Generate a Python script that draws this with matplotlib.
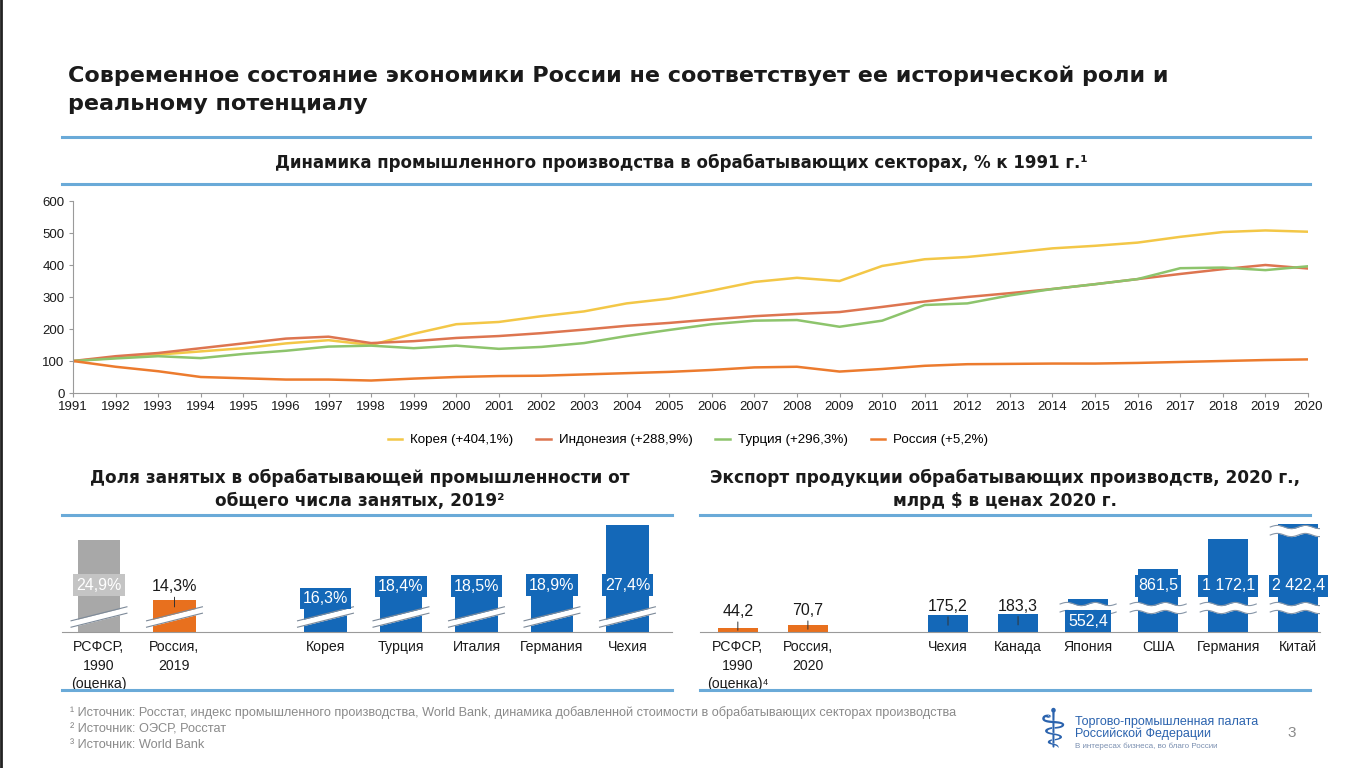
"""
Слайд ТПП: промышленное производство, занятость и экспорт обрабатывающих отраслей.
"""

import numpy as np
import matplotlib
matplotlib.use("Agg")
import matplotlib.pyplot as plt
import matplotlib.transforms as mtransforms
from matplotlib.lines import Line2D

plt.rcParams["font.family"] = ["Liberation Sans", "DejaVu Sans"]

W, H = 1366, 768

# --- линии: % к 1991 г.
years = list(range(1991, 2021))
korea = [100, 110, 120, 130, 140, 155, 165, 150, 185, 215, 222, 240, 255, 280, 295,
         320, 347, 360, 350, 397, 418, 425, 438, 452, 460, 470, 488, 503, 508, 504]
indonesia = [100, 115, 125, 140, 155, 170, 176, 156, 162, 172, 178, 187, 198, 210, 219,
             230, 240, 247, 253, 269, 286, 300, 312, 325, 340, 356, 372, 387, 400, 389]
turkey = [100, 108, 115, 109, 122, 132, 145, 148, 140, 148, 138, 144, 156, 178, 197,
          215, 226, 228, 207, 226, 275, 280, 305, 325, 340, 356, 390, 392, 384, 396]
russia = [100, 82, 68, 50, 46, 42, 42, 39, 45, 50, 53, 54, 58, 62, 66,
          72, 80, 82, 67, 75, 85, 90, 91, 92, 92, 94, 97, 100, 103, 105]
line_names = ["Корея (+404,1%)", "Индонезия (+288,9%)", "Турция (+296,3%)", "Россия (+5,2%)"]

# --- доля занятых, %
emp_labels = ["РСФСР,\n1990\n(оценка)", "Россия,\n2019", "Корея", "Турция",
              "Италия", "Германия", "Чехия"]
emp_values = [24.9, 14.3, 16.3, 18.4, 18.5, 18.9, 27.4]
emp_groups = ["grey", "ru", "blue", "blue", "blue", "blue", "blue"]

# --- экспорт, млрд $
exp_labels = ["РСФСР,\n1990\n(оценка)⁴", "Россия,\n2020", "Чехия", "Канада",
              "Япония", "США", "Германия", "Китай"]
exp_values = [44.2, 70.7, 175.2, 183.3, 552.4, 861.5, 1172.1, 2422.4]
exp_groups = ["ru", "ru", "blue", "blue", "blue", "blue", "blue", "blue"]

BLUE = "#1468B8"
ORANGE = "#E8701E"
GREY = "#A8A8A8"
RULE = "#6AAAD8"
TXT = "#1A1A1A"
bar_colors = {"grey": GREY, "ru": ORANGE, "blue": BLUE}
HEAD = ["DejaVu Sans"]


def fx(x):
    return x / W


def fy(y):
    return 1 - y / H


def px_axes(x0, y0, x1, y1):
    return fig.add_axes([fx(x0), fy(y1), (x1 - x0) / W, (y1 - y0) / H])


def rule(x0, x1, y, lw=2.2):
    fig.add_artist(Line2D([fx(x0), fx(x1)], [fy(y), fy(y)], color=RULE, lw=lw))


def ru_num(v, pct=False):
    s = f"{v:,.1f}".replace(",", " ").replace(".", ",")
    return s + "%" if pct else s


def top_px(ax, v, base_px=632, h_px=117):
    """Пиксельная координата (сверху) верха столбика."""
    frac = ax.transAxes.inverted().transform(ax.transData.transform((0, v)))[1]
    return base_px - frac * h_px


fig = plt.figure(figsize=(W / 100, H / 100), dpi=100)
fig.patch.set_facecolor("white")

# заголовок
fig.text(fx(68), fy(76), "Современное состояние экономики России не соответствует ее исторической роли и",
         fontsize=16, fontweight="bold", color=TXT, va="center", family=HEAD)
fig.text(fx(68), fy(104), "реальному потенциалу", fontsize=16, fontweight="bold", color=TXT,
         va="center", family=HEAD)
rule(62, 1310, 137)

fig.text(fx(681), fy(163), "Динамика промышленного производства в обрабатывающих секторах, % к 1991 г.¹",
         fontsize=12, fontweight="bold", color=TXT, ha="center", va="center", family=HEAD)
rule(62, 1310, 184)

# --- линейный график
ax = px_axes(73, 201, 1308, 393)
series = [korea, indonesia, turkey, russia]
colors = ["#F3C747", "#DD7550", "#8DC46C", "#EC7B2E"]
for vals, c, name in zip(series, colors, line_names):
    ax.plot(years, vals, color=c, lw=1.8, label=name)
ax.set_xlim(1991, 2020)
ax.set_ylim(0, 600)
ax.set_xticks(years)
ax.set_yticks(range(0, 601, 100))
for s in ["top", "right"]:
    ax.spines[s].set_visible(False)
for s in ["left", "bottom"]:
    ax.spines[s].set_color("#9A9A9A")
ax.tick_params(labelsize=9.5, colors="#9A9A9A", labelcolor=TXT, length=3, pad=3)
ax.set_facecolor("none")

handles, labels = ax.get_legend_handles_labels()
fig.legend(handles, labels, loc="center", bbox_to_anchor=(fx(688), fy(440)), ncol=4,
           frameon=False, fontsize=9.6, handlelength=1.1, columnspacing=1.7, handletextpad=0.6)

# --- доля занятых
fig.text(fx(360), fy(478), "Доля занятых в обрабатывающей промышленности от",
         fontsize=12.2, fontweight="bold", color=TXT, ha="center", va="center", family=HEAD)
fig.text(fx(360), fy(501), "общего числа занятых, 2019²",
         fontsize=12.2, fontweight="bold", color=TXT, ha="center", va="center", family=HEAD)
rule(62, 672, 515)
rule(62, 672, 690)

EMP_CUT = 8.7
emp_pos = [0, 1, 3, 4, 5, 6, 7]
ax1 = px_axes(62, 515, 672, 632)
ax1.bar(emp_pos, emp_values, width=0.56, color=[bar_colors[g] for g in emp_groups], zorder=2)
ax1.set_xlim(-0.49, 7.59)
ax1.set_ylim(EMP_CUT, EMP_CUT + 117 / 5.7)
tr1 = mtransforms.blended_transform_factory(ax1.transData, ax1.transAxes)
for p, v, g in zip(emp_pos, emp_values, emp_groups):
    # разрыв оси: косая полоса
    xs = np.array([p - 0.37, p + 0.37])
    yc = np.array([8, 22]) / 117
    hw = 3.2 / 117
    ax1.fill_between(xs, yc - hw, yc + hw, color="white", transform=tr1, zorder=3, lw=0)
    ax1.plot(xs, yc + hw, color="#7D8A99", lw=0.8, transform=tr1, zorder=4)
    ax1.plot(xs, yc - hw, color="#7D8A99", lw=0.8, transform=tr1, zorder=4)
    top = top_px(ax1, v)
    if g == "ru":
        ax1.annotate(ru_num(v, True), xy=(p, v - 1.2), xytext=(0, 9), textcoords="offset points",
                     ha="center", va="bottom", fontsize=11.5, color=TXT, zorder=5,
                     arrowprops=dict(arrowstyle="-", color="#333333", lw=0.7,
                                     shrinkA=0, shrinkB=0),
                     annotation_clip=False)
    else:
        box = "#C4C4C4" if g == "grey" else BLUE
        yc_lab = (632 - max(top + 10, 585)) / 117
        ax1.text(p, yc_lab, ru_num(v, True), ha="center", va="center", transform=tr1,
                 fontsize=11.5, color="white", zorder=5,
                 bbox=dict(boxstyle="square,pad=0.2", fc=box, ec="none"))
ax1.set_xticks(emp_pos)
ax1.set_xticklabels(emp_labels, fontsize=10.2, color=TXT, linespacing=1.4)
ax1.tick_params(length=0, pad=6)
ax1.set_yticks([])
for s in ["top", "right", "left"]:
    ax1.spines[s].set_visible(False)
ax1.spines["bottom"].set_color("#9A9A9A")
ax1.set_facecolor("none")

# --- экспорт
fig.text(fx(1005), fy(478), "Экспорт продукции обрабатывающих производств, 2020 г.,",
         fontsize=12.2, fontweight="bold", color=TXT, ha="center", va="center", family=HEAD)
fig.text(fx(1005), fy(501), "млрд $ в ценах 2020 г.",
         fontsize=12.2, fontweight="bold", color=TXT, ha="center", va="center", family=HEAD)
rule(700, 1310, 515)
rule(700, 1310, 690)

# разорванная шкала: участки 190-410 и 1250-2500 сжаты
brk_in = [0, 190, 410, 1250, 2500, 4000]
brk_out = [0, 190, 195, 1035, 1120, 1220]


def fwd(v):
    return np.interp(v, brk_in, brk_out)


def inv(v):
    return np.interp(v, brk_out, brk_in)


exp_pos = [0, 1, 3, 4, 5, 6, 7, 8]
ax2 = px_axes(700, 515, 1320, 632)
ax2.set_yscale("function", functions=(fwd, inv))
ax2.bar(exp_pos, exp_values, width=0.57, color=[bar_colors[g] for g in exp_groups], zorder=2)
ax2.set_xlim(-0.54, 8.31)
ax2.set_ylim(0, 3790)
tr2 = mtransforms.blended_transform_factory(ax2.transData, ax2.transAxes)
wave_x = np.linspace(-0.40, 0.40, 90)
wave = 1.6 / 117 * np.sin(wave_x * 2 * np.pi / 0.40)
for p, v, g in zip(exp_pos, exp_values, exp_groups):
    top = top_px(ax2, v)
    # волнистые разрывы: нижний и (для Китая) верхний
    for lvl_px, lvl_v in [(608, 450), (531, 1300)]:
        if v > lvl_v:
            yc = (632 - lvl_px) / 117 + wave
            hw = 4.0 / 117
            ax2.fill_between(p + wave_x, yc - hw, yc + hw, color="white", transform=tr2,
                             zorder=3, lw=0)
            ax2.plot(p + wave_x, yc + hw, color="#8796A8", lw=0.8, transform=tr2, zorder=4)
            ax2.plot(p + wave_x, yc - hw, color="#8796A8", lw=0.8, transform=tr2, zorder=4)
    if v < 400:
        ax2.annotate(ru_num(v), xy=(p, v * 0.4), xytext=(0, 8), textcoords="offset points",
                     ha="center", va="bottom", fontsize=11.5, color=TXT, zorder=5,
                     arrowprops=dict(arrowstyle="-", color="#333333", lw=0.7,
                                     shrinkA=0, shrinkB=0))
    else:
        lab_px = 586 if top < 575 else 621
        ax2.text(p, (632 - lab_px) / 117, ru_num(v), ha="center", va="center", transform=tr2,
                 fontsize=11.5, color="white", zorder=5,
                 bbox=dict(boxstyle="square,pad=0.2", fc=BLUE, ec="none"))
ax2.set_xticks(exp_pos)
ax2.set_xticklabels(exp_labels, fontsize=10.2, color=TXT, linespacing=1.4)
ax2.tick_params(length=0, pad=6)
ax2.set_yticks([])
ax2.yaxis.set_minor_locator(matplotlib.ticker.NullLocator())
for s in ["top", "right", "left"]:
    ax2.spines[s].set_visible(False)
ax2.spines["bottom"].set_color("#9A9A9A")
ax2.set_facecolor("none")

# --- сноски
notes = [
    "¹ Источник: Росстат, индекс промышленного производства, World Bank, динамика добавленной стоимости в обрабатывающих секторах производства",
    "² Источник: ОЭСР, Росстат",
    "³ Источник: World Bank",
]
for i, t in enumerate(notes):
    fig.text(fx(70), fy(713 + i * 16), t, fontsize=9.2, color="#8A8A8A", va="center")

# логотип ТПП
fig.text(fx(1053), fy(731), "⚕", fontsize=38, color="#2B63AE", ha="center", va="center",
         family=["DejaVu Sans"])
fig.text(fx(1075), fy(722), "Торгово-промышленная палата", fontsize=9, color="#2B63AE", va="center")
fig.text(fx(1075), fy(734), "Российской Федерации", fontsize=9, color="#2B63AE", va="center")
fig.text(fx(1075), fy(746), "В интересах бизнеса, во благо России", fontsize=5.8, color="#7A8FB0",
         va="center")
fig.text(fx(1292), fy(733), "3", fontsize=11, color="#8A8A8A", va="center", ha="center")

# тонкая рамка скриншота
fig.add_artist(Line2D([0.001, 0.001], [0, 1], color="#222222", lw=2))

fig.savefig("out.png", dpi=100)
plt.close(fig)
